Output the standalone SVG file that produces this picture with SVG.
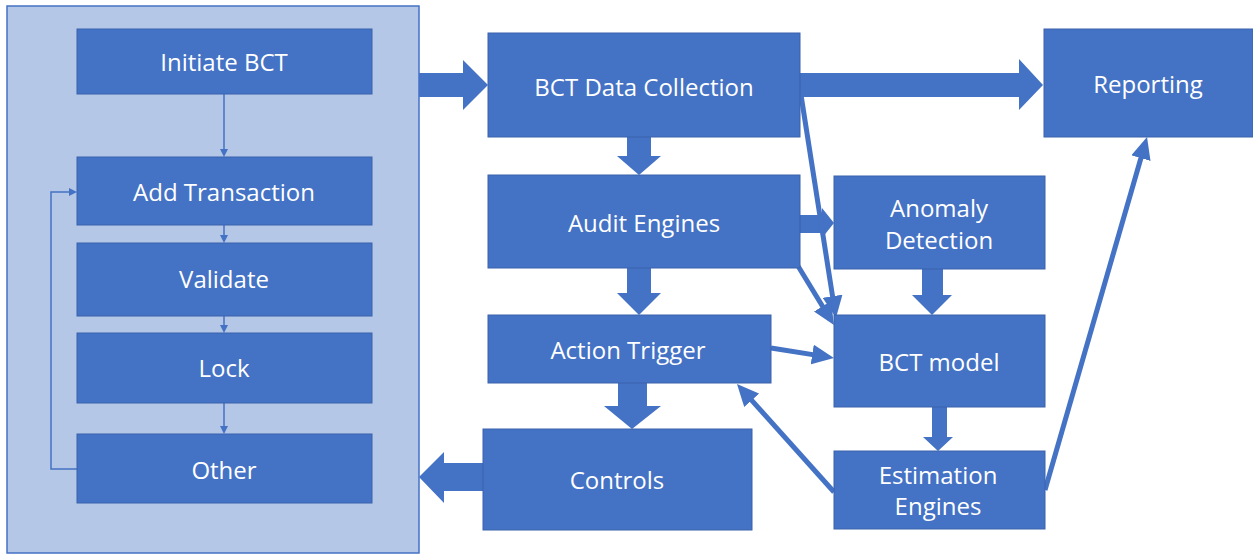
<svg xmlns="http://www.w3.org/2000/svg" width="1253" height="554" viewBox="0 0 1253 554">
<style>
.box{fill:#4472c4;stroke:#3a63ad;stroke-width:1}
.panel{fill:#b4c7e7;stroke:#4472c4;stroke-width:1.5}
.lbl{fill:#ffffff;font-family:"Open Sans","Noto Sans","DejaVu Sans",sans-serif;font-size:24px;text-anchor:middle}
.blk{fill:#4472c4;stroke:none}
.thin{stroke:#4472c4;stroke-width:5;fill:none;marker-end:url(#head)}
.small{stroke:#4472c4;stroke-width:1.5;fill:none;marker-end:url(#sh)}
</style>
<defs>
<marker id="head" viewBox="0 0 22 20" refX="10" refY="10" markerWidth="22" markerHeight="20" markerUnits="userSpaceOnUse" orient="auto">
<path d="M0,0 L22,10 L0,20 z" fill="#4472c4"/>
</marker>
<marker id="sh" viewBox="0 0 8 8" refX="6" refY="4" markerWidth="8" markerHeight="8" markerUnits="userSpaceOnUse" orient="auto">
<path d="M0,0 L8,4 L0,8 z" fill="#4472c4"/>
</marker>
</defs>
<g id="panel"><rect class="panel" x="7" y="6" width="412" height="547"/></g>
<g id="connectors">
<line class="small" x1="224" y1="94" x2="224" y2="155"/>
<line class="small" x1="224" y1="225" x2="224" y2="241"/>
<line class="small" x1="224" y1="316" x2="224" y2="331"/>
<line class="small" x1="224" y1="403" x2="224" y2="432"/>
<polyline class="small" points="77,469 51,469 51,192 75,192"/>
<polygon class="blk" points="419,73 463,73 463,60 488,85 463,110 463,97 419,97"/>
<polygon class="blk" points="800,73 1019,73 1019,59 1043,85 1019,110 1019,97 800,97"/>
<polygon class="blk" points="627,137 651,137 651,156 661,156 639,175 617,156 627,156"/>
<polygon class="blk" points="627,268 651,268 651,293 661,293 639,315 617,293 627,293"/>
<polygon class="blk" points="618,383 647,383 647,406 661,406 632,429 604,406 618,406"/>
<polygon class="blk" points="483,463 444,463 444,452 419,477 444,503 444,491 483,491"/>
<polygon class="blk" points="800,215 822,215 822,208 834,223 822,238 822,233 800,233"/>
<polygon class="blk" points="922,269 943,269 943,295 952,295 932,315 912,295 922,295"/>
<polygon class="blk" points="932,407 947,407 947,437 953,437 938,451 923,437 932,437"/>
<line class="thin" x1="801" y1="95" x2="834.1" y2="306.1"/>
<line class="thin" x1="798" y1="266" x2="827.7" y2="314.8"/>
<line class="thin" x1="771" y1="348" x2="822.1" y2="356.1"/>
<line class="thin" x1="834" y1="492" x2="745" y2="392.9"/>
<line class="thin" x1="1045" y1="490" x2="1143.7" y2="148.5"/>
</g>
<g id="initiate"><rect class="box" x="77" y="29" width="295" height="65"/><text class="lbl" x="224" y="71">Initiate BCT</text></g>
<g id="add"><rect class="box" x="77" y="157" width="295" height="68"/><text class="lbl" x="224" y="201">Add Transaction</text></g>
<g id="validate"><rect class="box" x="77" y="243" width="295" height="73"/><text class="lbl" x="224" y="288">Validate</text></g>
<g id="lock"><rect class="box" x="77" y="333" width="295" height="70"/><text class="lbl" x="224" y="377">Lock</text></g>
<g id="other"><rect class="box" x="77" y="434" width="295" height="69"/><text class="lbl" x="224" y="479">Other</text></g>
<g id="datacollection"><rect class="box" x="488" y="33" width="312" height="104"/><text class="lbl" x="644" y="96">BCT Data Collection</text></g>
<g id="audit"><rect class="box" x="488" y="175" width="312" height="93"/><text class="lbl" x="644" y="232">Audit Engines</text></g>
<g id="action"><rect class="box" x="488" y="315" width="283" height="68"/><text class="lbl" x="628" y="359">Action Trigger</text></g>
<g id="controls"><rect class="box" x="483" y="429" width="269" height="101"/><text class="lbl" x="617" y="489">Controls</text></g>
<g id="anomaly"><rect class="box" x="834" y="176" width="211" height="93"/><text class="lbl" x="939" y="217">Anomaly</text><text class="lbl" x="939" y="249">Detection</text></g>
<g id="model"><rect class="box" x="834" y="315" width="211" height="92"/><text class="lbl" x="939" y="371">BCT model</text></g>
<g id="estimation"><rect class="box" x="834" y="451" width="211" height="78"/><text class="lbl" x="938" y="484">Estimation</text><text class="lbl" x="938" y="515">Engines</text></g>
<g id="reporting"><rect class="box" x="1044" y="29" width="209" height="108"/><text class="lbl" x="1148" y="93">Reporting</text></g>
</svg>
